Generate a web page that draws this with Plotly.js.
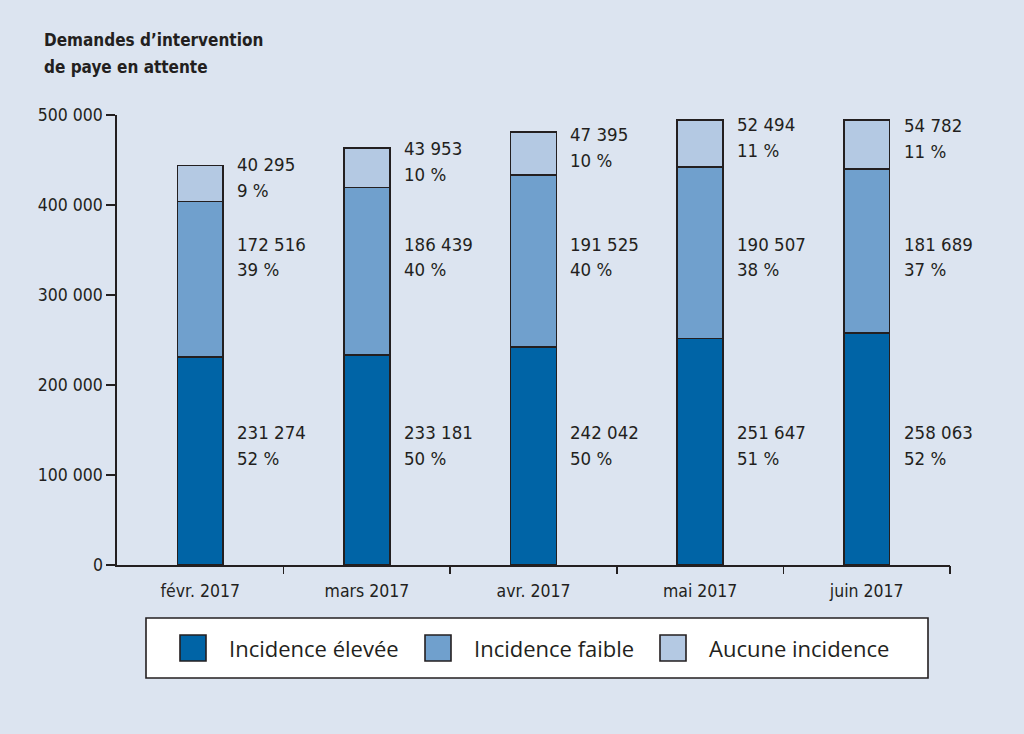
<!DOCTYPE html>
<html>
<head>
<meta charset="utf-8">
<script src="https://cdn.plot.ly/plotly-3.0.1.min.js"></script>
<style>
html,body{margin:0;padding:0;background:#dce4f0;}
#chart{width:1024px;height:734px;}
</style>
</head>
<body>
<div id="chart"></div>
<script>
// ---- data ----
var months = ["févr. 2017", "mars 2017", "avr. 2017", "mai 2017", "juin 2017"];
var seriesNames = ["Incidence élevée", "Incidence faible", "Aucune incidence"];
var eleveeValues = [231274, 233181, 242042, 251647, 258063];
var faibleValues = [172516, 186439, 191525, 190507, 181689];
var aucuneValues = [40295, 43953, 47395, 52494, 54782];
var eleveePct = ["52 %", "50 %", "50 %", "51 %", "52 %"];
var faiblePct = ["39 %", "40 %", "40 %", "38 %", "37 %"];
var aucunePct = ["9 %", "10 %", "10 %", "11 %", "11 %"];
var yTickVals = [0, 100000, 200000, 300000, 400000, 500000];
var titleLines = ["Demandes d’intervention", "de paye en attente"];

// ---- styles ----
var colors = ["#0064a6", "#70a0cd", "#b4c9e3"];
var ink = "#231f20";
var bg = "#dce4f0";
var condFont = "'Liberation Sans Narrow', 'DejaVu Sans Condensed', 'Roboto Condensed', sans-serif";
var legFont = "'Open Sans', 'Noto Sans', sans-serif";

var L = 117, R = 950, T = 115, B = 565;
function px2x(p){ return (p - L) / (R - L); }
function px2y(p){ return (B - p) / (B - T); }

function fmt(v){ return String(v).replace(/\B(?=(\d{3})+(?!\d))/g, " "); }

var seriesVals = [eleveeValues, faibleValues, aucuneValues];
var traces = seriesVals.map(function(vals, k){
  return {
    type: "bar",
    x: months.map(function(_, i){ return i; }),
    y: vals,
    name: seriesNames[k],
    width: 0.276,
    marker: {color: colors[k], line: {color: ink, width: 1.6}},
    hoverinfo: "skip",
    showlegend: false
  };
});

var annotations = [];
var LINE = 25.5;
months.forEach(function(m, i){
  var b = eleveeValues[i], f = faibleValues[i], a = aucuneValues[i];
  var items = [
    {v: b, p: eleveePct[i], y: 133000, shift: 0},
    {v: f, p: faiblePct[i], y: 342000, shift: 0},
    {v: a, p: aucunePct[i], y: b + f + a / 2, shift: 6}
  ];
  items.forEach(function(it){
    [fmt(it.v), it.p].forEach(function(txt, j){
      annotations.push({
        x: i + 0.21, y: it.y, xref: "x", yref: "y",
        xanchor: "left", yanchor: "middle", align: "left",
        yshift: it.shift + (j === 0 ? LINE / 2 : -LINE / 2),
        text: txt, showarrow: false,
        font: {family: condFont, size: 18.5, color: ink}
      });
    });
  });
});

// title
titleLines.forEach(function(t, j){
  annotations.push({
    x: px2x(42), y: px2y(40 + j * 27), xref: "paper", yref: "paper",
    xanchor: "left", yanchor: "middle", align: "left",
    text: "<b>" + t + "</b>", showarrow: false,
    font: {family: condFont, size: 17, color: ink}
  });
});

var shapes = [
  {type: "line", xref: "paper", yref: "paper", x0: px2x(107), x1: 0, y0: 0, y1: 0,
   line: {color: ink, width: 1.6}}
];

// legend box
shapes.push({type: "rect", xref: "paper", yref: "paper",
  x0: px2x(146), x1: px2x(928), y0: px2y(678), y1: px2y(618),
  fillcolor: "#ffffff", line: {color: ink, width: 1.6}});
var swX = [180, 425, 660];
var txX = [227, 472, 707];
seriesNames.forEach(function(n, k){
  shapes.push({type: "rect", xref: "paper", yref: "paper",
    x0: px2x(swX[k]), x1: px2x(swX[k] + 26), y0: px2y(661), y1: px2y(635),
    fillcolor: colors[k], line: {color: ink, width: 1.6}});
  annotations.push({x: px2x(txX[k]), y: px2y(648), xref: "paper", yref: "paper",
    xanchor: "left", yanchor: "middle", text: n, showarrow: false,
    font: {family: legFont, size: 22, color: ink}});
});

var layout = {
  width: 1024, height: 734,
  paper_bgcolor: bg, plot_bgcolor: bg,
  margin: {l: L, r: 1024 - R, t: T, b: 734 - B, pad: 0},
  barmode: "stack",
  showlegend: false,
  separators: ", ",
  xaxis: {
    type: "linear", range: [-0.5, 4.5],
    tickvals: months.map(function(_, i){ return i; }), ticktext: months,
    ticks: "", showline: true, linecolor: ink, linewidth: 1.6,
    showgrid: false, zeroline: false, fixedrange: true,
    tickfont: {family: condFont, size: 17.5, color: ink}, ticklabelstandoff: 9
  },
  xaxis2: {
    overlaying: "x", matching: "x", range: [-0.5, 4.5], type: "linear",
    tickvals: [0.5, 1.5, 2.5, 3.5, 4.5], ticktext: ["", "", "", "", ""],
    ticks: "outside", ticklen: 8, tickwidth: 1.6, tickcolor: ink,
    showline: false, showgrid: false, zeroline: false, anchor: "y"
  },
  yaxis: {
    range: [0, 500000], tickvals: yTickVals, tickformat: ",d",
    ticks: "outside", ticklen: 9, tickwidth: 1.6, tickcolor: ink,
    showline: true, linecolor: ink, linewidth: 1.6,
    showgrid: false, zeroline: false, fixedrange: true,
    tickfont: {family: condFont, size: 17.5, color: ink}
  },
  annotations: annotations,
  shapes: shapes
};

traces.push({type: "scatter", x: [0], y: [0], xaxis: "x2", yaxis: "y",
  mode: "markers", marker: {opacity: 0}, hoverinfo: "skip", showlegend: false});

Plotly.newPlot("chart", traces, layout, {displayModeBar: false, staticPlot: true});
</script>
</body>
</html>
